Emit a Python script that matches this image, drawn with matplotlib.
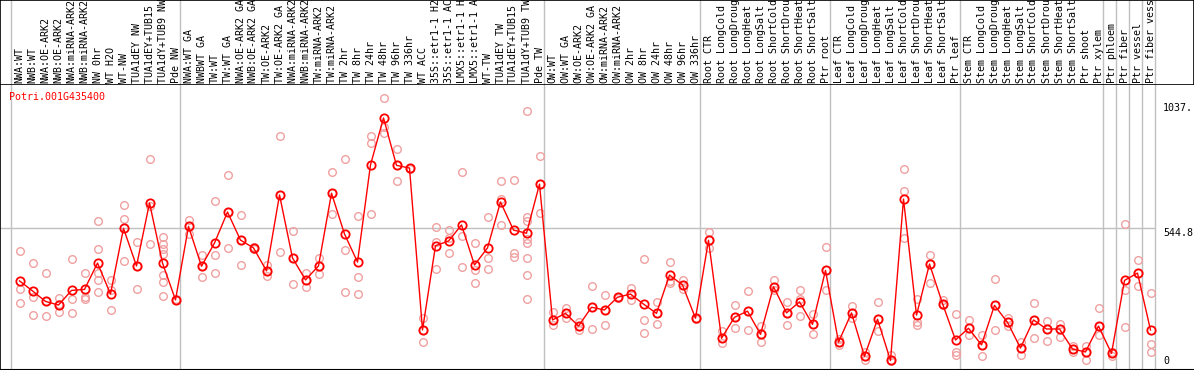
import matplotlib
matplotlib.use("Agg")
import matplotlib.pyplot as plt
import numpy as np

# data
labels = [
    "NWA:WT", "NWB:WT", "NWA:OE-ARK2", "NWB:OE-ARK2", "NWA:miRNA-ARK2", "NWB:miRNA-ARK2",
    "NW 0hr", "WT H2O", "WT-NW", "TUA1dEY NW", "TUA1dEY+TUB15 NW", "TUA1dY+TUB9 NW", "Pde NW",
    "NWA:WT GA", "NWBWT GA", "TW:WT", "TW:WT GA", "NWA:OE-ARK2 GA", "NWB:OE-ARK2 GA",
    "TW:OE-ARK2", "TW:OE-ARK2 GA", "NWA:miRNA-ARK2 GA", "NWB:miRNA-ARK2 GA", "TW:miRNA-ARK2",
    "TW:miRNA-ARK2 GA", "TW 2hr", "TW 8hr", "TW 24hr", "TW 48hr", "TW 96hr", "TW 336hr",
    "WT ACC", "35S::etr1-1 H2O", "35S::etr1-1 ACC", "LMX5::etr1-1 H2O", "LMX5::etr1-1 ACC",
    "WT-TW", "TUA1dEY TW", "TUA1dEY+TUB15 TW", "TUA1dY+TUB9 TW", "Pde TW",
    "OW:WT", "OW:WT GA", "OW:OE-ARK2", "OW:OE-ARK2 GA", "OW:miRNA-ARK2", "OW:miRNA-ARK2 GA",
    "OW 2hr", "OW 8hr", "OW 24hr", "OW 48hr", "OW 96hr", "OW 336hr",
    "Root CTR", "Root LongCold", "Root LongDrought", "Root LongHeat", "Root LongSalt",
    "Root ShortCold", "Root ShortDrought", "Root ShortHeat", "Root ShortSalt", "Ptr root",
    "Leaf CTR", "Leaf LongCold", "Leaf LongDrought", "Leaf LongHeat", "Leaf LongSalt",
    "Leaf ShortCold", "Leaf ShortDrought", "Leaf ShortHeat", "Leaf ShortSalt", "Ptr leaf",
    "Stem CTR", "Stem LongCold", "Stem LongDrought", "Stem LongHeat", "Stem LongSalt",
    "Stem ShortCold", "Stem ShortDrought", "Stem ShortHeat", "Stem ShortSalt", "Ptr shoot",
    "Ptr xylem", "Ptr phloem", "Ptr fiber", "Ptr vessel", "Ptr fiber vessel",
]

means = [
    328, 287, 244, 229, 289, 293, 401, 274, 543, 389, 647, 401, 250,
    551, 388, 483, 610, 495, 463, 369, 680, 422, 332, 389, 687, 520, 405, 803, 995,
    801, 790, 127, 472, 491, 557, 393, 463, 651, 536, 523, 724,
    168, 195, 143, 220, 209, 261, 274, 233, 195, 352, 311, 175,
    494, 93, 179, 204, 109, 304, 197, 242, 150, 371,
    77, 197, 19, 171, 2, 663, 188, 397, 235, 86,
    134, 66, 228, 158, 53, 168, 131, 131, 49, 37, 143,
    31, 330, 360, 127,
]

replicates = [
    [449, 296, 236], [401, 261, 187], [359, 244, 183], [257, 232, 199], [416, 255, 197],
    [359, 263, 254], [573, 457, 359, 330, 282], [330, 291, 209], [638, 580, 408],
    [486, 389, 294], [827, 635, 478], [508, 479, 457, 437, 351, 325, 265], [252, 248],
    [577, 551, 521], [434, 388, 343], [655, 434, 360], [762, 610, 463], [597, 495, 393],
    [466, 460], [393, 369, 348], [921, 680, 446], [532, 422, 315], [362, 332, 302],
    [422, 389, 355], [774, 687, 601], [826, 453, 282], [594, 344, 273], [921, 891, 601],
    [1076, 959, 935], [867, 801, 737], [792, 788], [176, 127, 77], [549, 486, 376],
    [536, 502, 441], [774, 512, 385], [482, 373, 319], [590, 422, 376], [737, 665, 557],
    [741, 441, 425], [1022, 590, 573, 501, 482, 422, 352, 253], [839, 724, 605],
    [202, 168, 147], [216, 195, 175], [160, 143, 127], [307, 220, 130], [270, 209, 146],
    [263, 261, 258], [299, 274, 249], [416, 168, 115], [240, 195, 150], [404, 329, 318],
    [332, 311, 295], [178, 172],
    [527, 494, 464], [122, 93, 72], [229, 179, 135], [287, 204, 127], [142, 109, 78],
    [330, 304, 289], [240, 197, 146], [289, 254, 183], [191, 150, 109], [466, 371, 289],
    [89, 77, 64], [224, 197, 176], [36, 19, 2], [242, 171, 122], [25, 2, 0],
    [785, 695, 502], [253, 158, 149], [433, 397, 318], [250, 235, 228], [192, 37, 25],
    [168, 134, 108], [106, 66, 20], [334, 228, 127], [175, 158, 143], [77, 53, 26],
    [238, 168, 93], [165, 131, 82], [152, 131, 97], [61, 49, 38], [61, 37, 3],
    [216, 143, 105], [38, 31, 22], [560, 289, 140], [412, 360, 306], [277, 68, 36],
]

# last index of each sample group (a separator is drawn right after it)
group_ends = [-1, 12, 40, 52, 62, 72, 83, 84, 85, 86, 87]
ytick_vals = [0, 544.8, 1037]
ytick_text = ["0", "544.8", "1037."]
gene = "Potri.001G435400"

W, H, HEAD = 1194, 370, 85
mono = "DejaVu Sans Mono"
grid_c = "#c0c0c0"
pink = "#f0a0a0"

fig = plt.figure(figsize=(W / 100, H / 100), dpi=100)
ax_h = fig.add_axes([0, 1 - HEAD / H, 1, HEAD / H])
ax = fig.add_axes([0, 0, 1, 1 - HEAD / H])

x = np.arange(len(labels))
xlim = (-19.5 / 13, (W - 19.5) / 13)
seps = [e + 0.35 for e in group_ends]

# header with rotated sample names (long names are cut at the top, as in the original)
ax_h.set_xlim(*xlim)
ax_h.set_ylim(HEAD, 0)
ax_h.set_xticks([])
ax_h.set_yticks([])
for s in ax_h.spines.values():
    s.set_color("black")
    s.set_linewidth(1.2)
for sx in seps:
    ax_h.axvline(sx, color=grid_c, lw=1)
for xi, lab in zip(x, labels):
    ax_h.text(xi, HEAD - 2, lab, rotation=90, ha="center", va="bottom",
              fontsize=7.2, family=mono, clip_on=True)

# main plot
ax.set_xlim(*xlim)
ax.set_ylim(-36.9, 1130)
ax.set_xticks([])
ax.set_yticks([])
ax.spines["right"].set_visible(False)
ax.spines["top"].set_visible(False)
ax.spines["left"].set_linewidth(1.2)
ax.spines["bottom"].set_linewidth(1.5)
for sx in seps:
    ax.axvline(sx, color=grid_c, lw=1, zorder=0)
ax.hlines(ytick_vals[1], xlim[0], seps[-1], color=grid_c, lw=1, zorder=0)

rx = np.concatenate([[xi] * len(r) for xi, r in zip(x, replicates)])
ry = np.concatenate(replicates)
ax.plot(rx, ry, "o", ms=5.5, mfc="none", mec=pink, mew=1, zorder=2)
ax.plot(x, means, "-", color="red", lw=1, zorder=3)
ax.plot(x, means, "o", ms=6, mfc="none", mec="red", mew=1.3, zorder=4)

tx = (1163 - 19.5) / 13
ax.text(tx, ytick_vals[2], ytick_text[2], ha="left", va="center", fontsize=7.2, family=mono)
ax.text(tx, ytick_vals[1], ytick_text[1], ha="left", va="top", fontsize=7.2, family=mono)
ax.text(tx, ytick_vals[0], ytick_text[0], ha="left", va="center", fontsize=7.2, family=mono)

ax.text(9 / W, 1 - 12 / (H - HEAD), gene, transform=ax.transAxes, ha="left", va="center",
        color="red", fontsize=7.2, family=mono)

fig.savefig("out.png", dpi=100)
